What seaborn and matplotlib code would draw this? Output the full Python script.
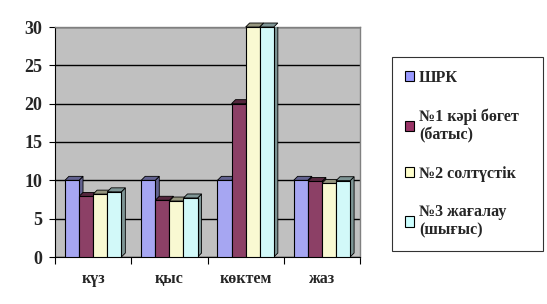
import matplotlib
matplotlib.use("Agg")
import matplotlib.pyplot as plt
import seaborn as sns
import pandas as pd
import numpy as np
from matplotlib.patches import Polygon, Patch
import matplotlib.colors as mcolors

categories = ["күз", "қыс", "көктем", "жаз"]
series = ["ШРК", "№1 кәрі бөгет\n(батыс)", "№2 солтүстік", "№3 жағалау\n(шығыс)"]
shrk = [10, 10, 10, 10]
s1 = [7.9, 7.4, 20, 9.85]
s2 = [8.2, 7.3, 30, 9.6]
s3 = [8.5, 7.7, 30, 9.95]
colors = ["#9999FF", "#993366", "#FFFFCC", "#CCFFFF"]

rows = []
for name, vals in zip(series, [shrk, s1, s2, s3]):
    for c, v in zip(categories, vals):
        rows.append({"cat": c, "series": name, "value": v})
df = pd.DataFrame(rows)

sns.set_style("white")
plt.rcParams["font.family"] = "Liberation Serif"
plt.rcParams["font.weight"] = "bold"

W, H = 547, 304
fig = plt.figure(figsize=(W / 100, H / 100), dpi=100)
ax_l, ax_r, ax_t, ax_b = 55, 360, 27, 257
ax = fig.add_axes([ax_l / W, 1 - ax_b / H, (ax_r - ax_l) / W, (ax_b - ax_t) / H])
ax.set_facecolor("#C0C0C0")

sns.barplot(data=df, x="cat", y="value", hue="series", order=categories,
            hue_order=series, palette=colors, ax=ax, width=0.74,
            edgecolor="black", linewidth=0.8, legend=False, zorder=3)

ax.set_ylim(0, 30)
ax.set_xlim(-0.5, 3.5)
ax.set_yticks(np.arange(0, 31, 5))
ax.yaxis.grid(True, color="black", linewidth=1.0, zorder=0)
ax.set_axisbelow(True)

# pseudo-3D depth faces derived from bar geometry
px_x = (ax_r - ax_l) / 4.0
px_y = (ax_b - ax_t) / 30.0
dx = 4.0 / px_x
dy = 4.0 / px_y
for bar in ax.patches:
    x0 = bar.get_x(); w = bar.get_width(); h = bar.get_height()
    fc = mcolors.to_rgb(bar.get_facecolor())
    dark = tuple(c * 0.6 for c in fc)
    side = Polygon([(x0 + w, 0), (x0 + w + dx, dy), (x0 + w + dx, h + dy), (x0 + w, h)],
                   closed=True, facecolor=dark, edgecolor="black", linewidth=0.6, zorder=2.9)
    top = Polygon([(x0, h), (x0 + dx, h + dy), (x0 + w + dx, h + dy), (x0 + w, h)],
                  closed=True, facecolor=dark, edgecolor="black", linewidth=0.6, zorder=2.9, clip_on=False)
    ax.add_patch(side)
    ax.add_patch(top)

for s in ["top", "right"]:
    ax.spines[s].set_color("#808080")
    ax.spines[s].set_linewidth(1.0)
ax.spines["left"].set_color("black")
ax.spines["bottom"].set_color("black")

ax.set_xlabel("")
ax.set_ylabel("")
ax.tick_params(axis="y", length=4, width=0.8, color="black", left=True, pad=5)
ax.tick_params(axis="x", length=0, pad=10)
for lbl in ax.get_yticklabels():
    lbl.set_fontproperties({"family": "Liberation Serif", "weight": "bold", "size": 13})
for lbl in ax.get_xticklabels():
    lbl.set_fontproperties({"family": "Liberation Serif", "weight": "bold", "size": 11.5})
ax.set_xticks([-0.5, 0.5, 1.5, 2.5, 3.5], minor=True)
ax.tick_params(axis="x", which="minor", length=5, width=0.8, color="black", bottom=True)

handles = [Patch(facecolor=c, edgecolor="black", linewidth=0.8) for c in colors]
leg = fig.legend(handles, series, loc="upper left", mode="expand",
                 bbox_to_anchor=(392 / W, 1 - 248 / H, 151 / W, 191 / H),
                 frameon=True, fancybox=False,
                 prop={"family": "Liberation Serif", "weight": "bold", "size": 11.5},
                 handlelength=0.6, handleheight=0.6, handletextpad=0.3,
                 labelspacing=1.4, borderpad=0.8, borderaxespad=0)
leg.get_frame().set_edgecolor("black")
leg.get_frame().set_linewidth(0.8)

fig.savefig("out.png", dpi=100, facecolor="white")
